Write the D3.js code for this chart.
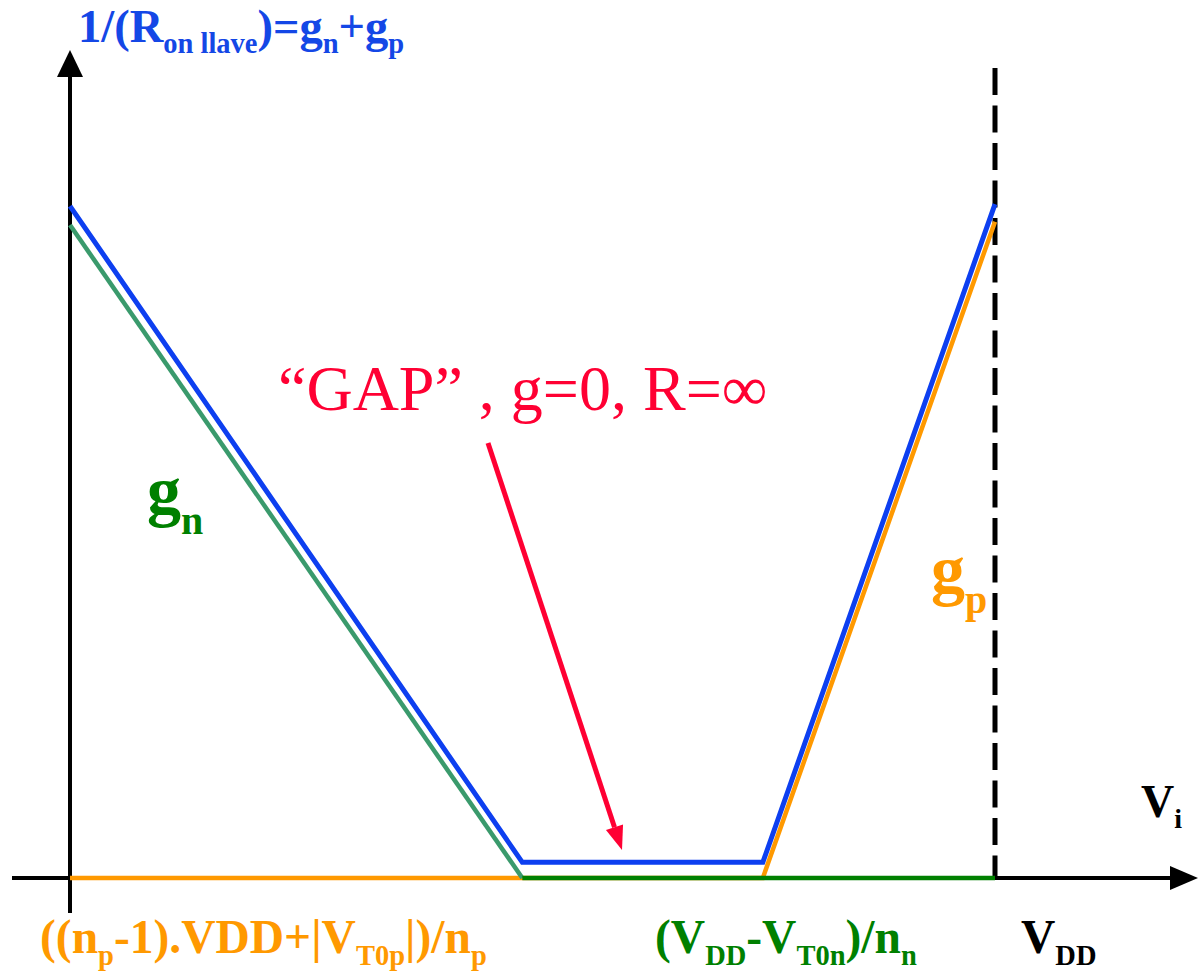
<!DOCTYPE html>
<html>
<head>
<meta charset="utf-8">
<script src="https://cdn.jsdelivr.net/npm/d3@7"></script>
<style>
  html, body { margin: 0; padding: 0; background: #ffffff; }
  svg { display: block; }
</style>
</head>
<body>
<svg id="chart" width="1198" height="973"></svg>
<script>
// Input voltage Vi, normalised to VDD (0 .. 1)
const vi = [0, 0.489, 0.749, 1];
// Conductance of the nMOS switch (g_n), normalised
const gn = [1.0, 0, 0, 0];
// Conductance of the pMOS switch (g_p), normalised
const gp = [0, 0, 0, 1.005];
// Total conductance 1/R_on = g_n + g_p (drawn slightly above the parts)
const gTotal = [1.029, 0.024, 0.024, 1.032];

// Text pieces: [text, isSubscript]
const yTitle = [["1/(R", false], ["on llave", true], [")=g", false], ["n", true], ["+g", false], ["p", true]];
const xTitle = [["V", false], ["i", true]];
const gnLabel = [["g", false], ["n", true]];
const gpLabel = [["g", false], ["p", true]];
const gapLabel = "\u201CGAP\u201D , g=0, R=\u221E";
const tickLeft = [["((n", false], ["p", true], ["-1).VDD+|V", false], ["T0p", true], ["|)/n", false], ["p", true]];
const tickMid = [["(V", false], ["DD", true], ["-V", false], ["T0n", true], [")/n", false], ["n", true]];
const tickRight = [["V", false], ["DD", true]];

const BLUE = "#0d3ff0", LGREEN = "#3a9a6c", DGREEN = "#008000",
      ORANGE = "#ff9900", RED = "#ff0033", BLACK = "#000000";
const SERIF = "Liberation Serif";

const svg = d3.select("#chart");
const x = d3.scaleLinear().domain([0, 1]).range([70, 995]);
const y = d3.scaleLinear().domain([0, 1]).range([878, 225]);
const line = d3.line().x(d => x(d[0])).y(d => y(d[1]));

// ----- axes -----
const axes = svg.append("g");
axes.append("line").attr("x1", 12).attr("x2", 1175).attr("y1", y(0)).attr("y2", y(0))
  .attr("stroke", BLACK).attr("stroke-width", 4);
axes.append("path").attr("d", `M1198,${y(0)} L1170,${y(0) - 12} L1170,${y(0) + 12} Z`).attr("fill", BLACK);
axes.append("line").attr("x1", x(0)).attr("x2", x(0)).attr("y1", 913).attr("y2", 72)
  .attr("stroke", BLACK).attr("stroke-width", 4);
axes.append("path").attr("d", `M${x(0)},50 L${x(0) - 13},77 L${x(0) + 13},77 Z`).attr("fill", BLACK);

// VDD marker
axes.append("line").attr("x1", x(1)).attr("x2", x(1)).attr("y1", 68).attr("y2", y(0))
  .attr("stroke", BLACK).attr("stroke-width", 5).attr("stroke-dasharray", "27,10.5");

// ----- curves -----
const pts = arr => vi.map((v, i) => [v, arr[i]]);
// g_p : flat at zero then rising
svg.append("path").attr("d", line(pts(gp))).attr("fill", "none")
  .attr("stroke", ORANGE).attr("stroke-width", 4.5).attr("stroke-linejoin", "miter");
// g_n : falling part then flat at zero
const gnPts = pts(gn);
svg.append("path").attr("d", line(gnPts.slice(0, 2))).attr("fill", "none")
  .attr("stroke", LGREEN).attr("stroke-width", 4.5);
svg.append("path").attr("d", line(gnPts.slice(1))).attr("fill", "none")
  .attr("stroke", DGREEN).attr("stroke-width", 4.5);
// total conductance
svg.append("path").attr("d", line(pts(gTotal))).attr("fill", "none")
  .attr("stroke", BLUE).attr("stroke-width", 5).attr("stroke-linejoin", "miter");

// ----- text helper with subscripts -----
function rich(px, py, parts, size, subSize, subDy, fill) {
  const t = svg.append("text").attr("x", px).attr("y", py)
    .attr("font-family", SERIF).attr("font-weight", "bold")
    .attr("font-size", size).attr("fill", fill);
  let down = false;
  parts.forEach(([s, sub]) => {
    const ts = t.append("tspan").text(s);
    if (sub && !down) { ts.attr("dy", subDy).attr("font-size", subSize); down = true; }
    else if (sub) { ts.attr("font-size", subSize); }
    else if (down) { ts.attr("dy", -subDy); down = false; }
  });
  return t;
}

rich(78, 42, yTitle, 46.5, 28.5, 11, "#1447e6");
rich(1141, 817, xTitle, 46, 28, 11, BLACK);
rich(147, 514, gnLabel, 68, 40, 20, DGREEN);
rich(931, 593, gpLabel, 68, 40, 20, ORANGE);
rich(40, 953, tickLeft, 47.5, 28.5, 12, ORANGE);
rich(655, 953, tickMid, 47.5, 28.5, 12, DGREEN);
rich(1021, 953, tickRight, 47.5, 28.5, 12, BLACK);

// ----- "GAP" annotation -----
svg.append("text").attr("x", 278).attr("y", 410)
  .attr("font-family", SERIF).attr("font-size", 64).attr("fill", RED)
  .text(gapLabel);

const ax0 = 488, ay0 = 443, ax1 = 622, ay1 = 850;
const ang = Math.atan2(ay1 - ay0, ax1 - ax0);
const headLen = 24, headW = 9;
const bx = ax1 - headLen * Math.cos(ang), by = ay1 - headLen * Math.sin(ang);
svg.append("line").attr("x1", ax0).attr("y1", ay0).attr("x2", bx).attr("y2", by)
  .attr("stroke", RED).attr("stroke-width", 5);
svg.append("path")
  .attr("d", `M${ax1},${ay1} L${bx + headW * Math.sin(ang)},${by - headW * Math.cos(ang)} L${bx - headW * Math.sin(ang)},${by + headW * Math.cos(ang)} Z`)
  .attr("fill", RED);
</script>
</body>
</html>
